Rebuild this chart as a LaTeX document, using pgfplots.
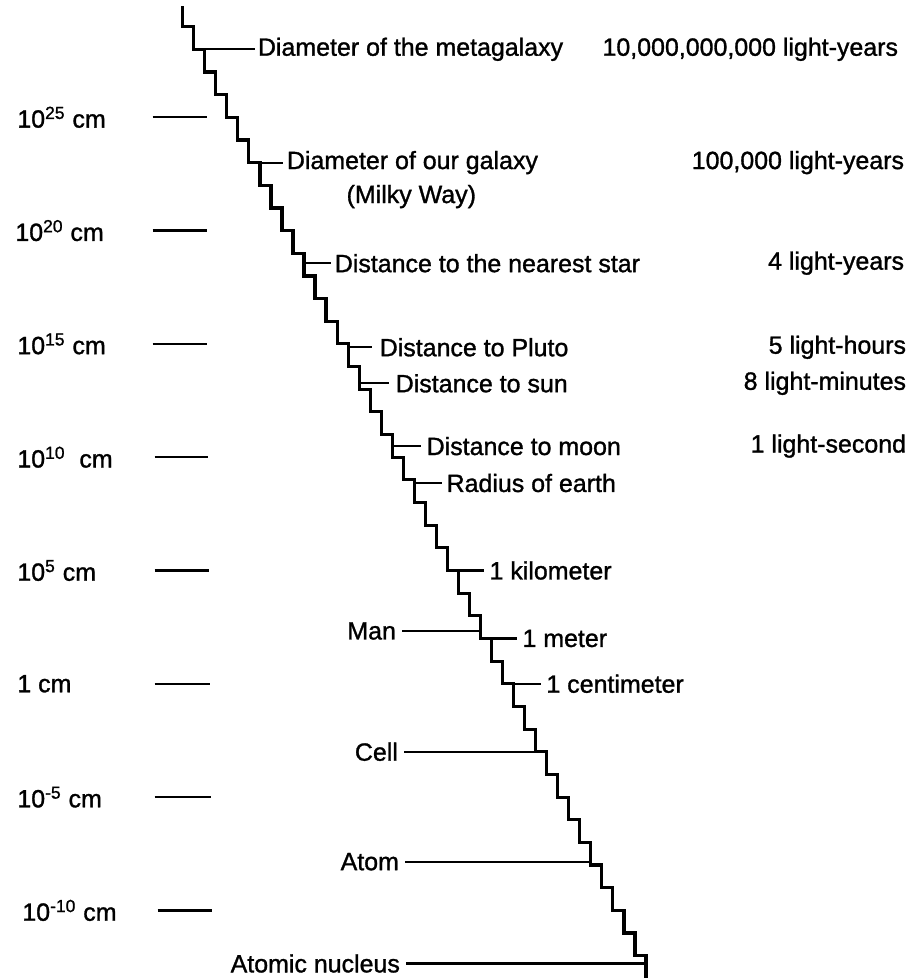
\documentclass[border=0pt]{standalone}
\usepackage{pgfplots}
\pgfplotsset{compat=1.18}
\usepackage{fontspec}
\setmainfont{Liberation Sans}[BoldFont={Liberation Sans},BoldFeatures={FakeBold=1.2}]
\tikzset{lbl/.style={inner sep=0pt, font=\fontsize{12.5}{15}\selectfont\bfseries}}
\begin{document}
\begin{tikzpicture}
\begin{axis}[
  width=459pt, height=490pt, scale only axis,
  xmin=0, xmax=918, ymin=-12.996, ymax=30.176,
  hide axis, clip=false,
  stair/.style={black, line width=1.6pt, line join=miter},
  lab/.style={black, line width=1.1pt},
  tk/.style={black, line width=1.1pt},
]
\path (rel axis cs:0,0) rectangle (rel axis cs:1,1);
% staircase (one step per decade of length in cm)
\addplot[stair] coordinates {
(183,29.89)
(183,29) (194.05,29)
(194.05,28) (205.1,28)
(205.1,27) (216.15,27)
(216.15,26) (227.2,26)
(227.2,25) (238.25,25)
(238.25,24) (249.3,24)
(249.3,23) (260.35,23)
(260.35,22) (271.4,22)
(271.4,21) (282.45,21)
(282.45,20) (293.5,20)
(293.5,19) (304.55,19)
(304.55,18) (315.6,18)
(315.6,17) (326.65,17)
(326.65,16) (337.7,16)
(337.7,15) (348.75,15)
(348.75,14) (359.8,14)
(359.8,13) (370.85,13)
(370.85,12) (381.9,12)
(381.9,11) (392.95,11)
(392.95,10) (404,10)
(404,9) (415.05,9)
(415.05,8) (426.1,8)
(426.1,7) (437.15,7)
(437.15,6) (448.2,6)
(448.2,5) (459.25,5)
(459.25,4) (470.3,4)
(470.3,3) (481.35,3)
(481.35,2) (492.4,2)
(492.4,1) (503.45,1)
(503.45,0) (514.5,0)
(514.5,-1) (525.55,-1)
(525.55,-2) (536.6,-2)
(536.6,-3) (547.65,-3)
(547.65,-4) (558.7,-4)
(558.7,-5) (569.75,-5)
(569.75,-6) (580.8,-6)
(580.8,-7) (591.85,-7)
(591.85,-8) (602.9,-8)
(602.9,-9) (613.95,-9)
(613.95,-10) (625,-10)
(625,-11) (636.05,-11)
(636.05,-12) (647.1,-12)
(647.1,-13)
};
% scale ticks on the left
\addplot[tk] coordinates {(153,25) (207,25)};
\addplot[tk] coordinates {(153,20) (207,20)};
\addplot[tk] coordinates {(153,15) (207,15)};
\addplot[tk] coordinates {(155,10) (208,10)};
\addplot[tk] coordinates {(155,5) (209,5)};
\addplot[tk] coordinates {(155,0) (210,0)};
\addplot[tk] coordinates {(155,-5) (211,-5)};
\addplot[tk] coordinates {(158,-10) (212,-10)};
\node[lbl,anchor=west] at (axis cs:17,25) {10\textsuperscript{25} cm};
\node[lbl,anchor=west] at (axis cs:15,20) {10\textsuperscript{20} cm};
\node[lbl,anchor=west] at (axis cs:17,15) {10\textsuperscript{15} cm};
\node[lbl,anchor=west] at (axis cs:17,10) {10\textsuperscript{10}\ \ cm};
\node[lbl,anchor=west] at (axis cs:17,5) {10\textsuperscript{5} cm};
\node[lbl,anchor=west] at (axis cs:17,0) {1 cm};
\node[lbl,anchor=west] at (axis cs:17,-5) {10\textsuperscript{-5} cm};
\node[lbl,anchor=west] at (axis cs:22,-10) {10\textsuperscript{-10} cm};
% right-hand labels
\addplot[lab] coordinates {(194.05,28) (255,28)};
\node[lbl,anchor=west] at (axis cs:258,28) {Diameter of the metagalaxy};
\addplot[lab] coordinates {(249.3,23) (283,23)};
\node[lbl,anchor=west] at (axis cs:287,23) {Diameter of our galaxy};
\node[lbl] at (axis cs:412,21.5) {(Milky Way)};
\addplot[lab] coordinates {(304.55,18.56) (332,18.56)};
\node[lbl,anchor=west] at (axis cs:335,18.56) {Distance to the nearest star};
\addplot[lab] coordinates {(348.75,14.85) (373,14.85)};
\node[lbl,anchor=west] at (axis cs:380,14.85) {Distance to Pluto};
\addplot[lab] coordinates {(359.8,13.26) (390,13.26)};
\node[lbl,anchor=west] at (axis cs:396,13.26) {Distance to sun};
\addplot[lab] coordinates {(392.95,10.49) (422,10.49)};
\node[lbl,anchor=west] at (axis cs:427,10.49) {Distance to moon};
\addplot[lab] coordinates {(415.05,8.86) (443,8.86)};
\node[lbl,anchor=west] at (axis cs:447,8.86) {Radius of earth};
\addplot[lab] coordinates {(448.2,5) (485,5)};
\node[lbl,anchor=west] at (axis cs:490,5) {1 kilometer};
\addplot[lab] coordinates {(481.35,2) (518,2)};
\node[lbl,anchor=west] at (axis cs:523,2) {1 meter};
\addplot[lab] coordinates {(503.45,0) (542,0)};
\node[lbl,anchor=west] at (axis cs:547,0) {1 centimeter};
% left-hand labels
\addplot[lab] coordinates {(403,2.33) (481.35,2.33)};
\node[lbl,anchor=east] at (axis cs:397,2.33) {Man};
\addplot[lab] coordinates {(405,-3) (536.6,-3)};
\node[lbl,anchor=east] at (axis cs:399,-3) {Cell};
\addplot[lab] coordinates {(406,-7.85) (591.85,-7.85)};
\node[lbl,anchor=east] at (axis cs:400,-7.85) {Atom};
\addplot[lab] coordinates {(407,-12.34) (647.1,-12.34)};
\node[lbl,anchor=east] at (axis cs:401,-12.34) {Atomic nucleus};
% light-travel column
\node[lbl,anchor=east] at (axis cs:900,28) {10,000,000,000 light-years};
\node[lbl,anchor=east] at (axis cs:906,23) {100,000 light-years};
\node[lbl,anchor=east] at (axis cs:906,18.56) {4 light-years};
\node[lbl,anchor=east] at (axis cs:908,14.85) {5 light-hours};
\node[lbl,anchor=east] at (axis cs:908,13.26) {8 light-minutes};
\node[lbl,anchor=east] at (axis cs:908,10.49) {1 light-second};
\end{axis}
\end{tikzpicture}
\end{document}
